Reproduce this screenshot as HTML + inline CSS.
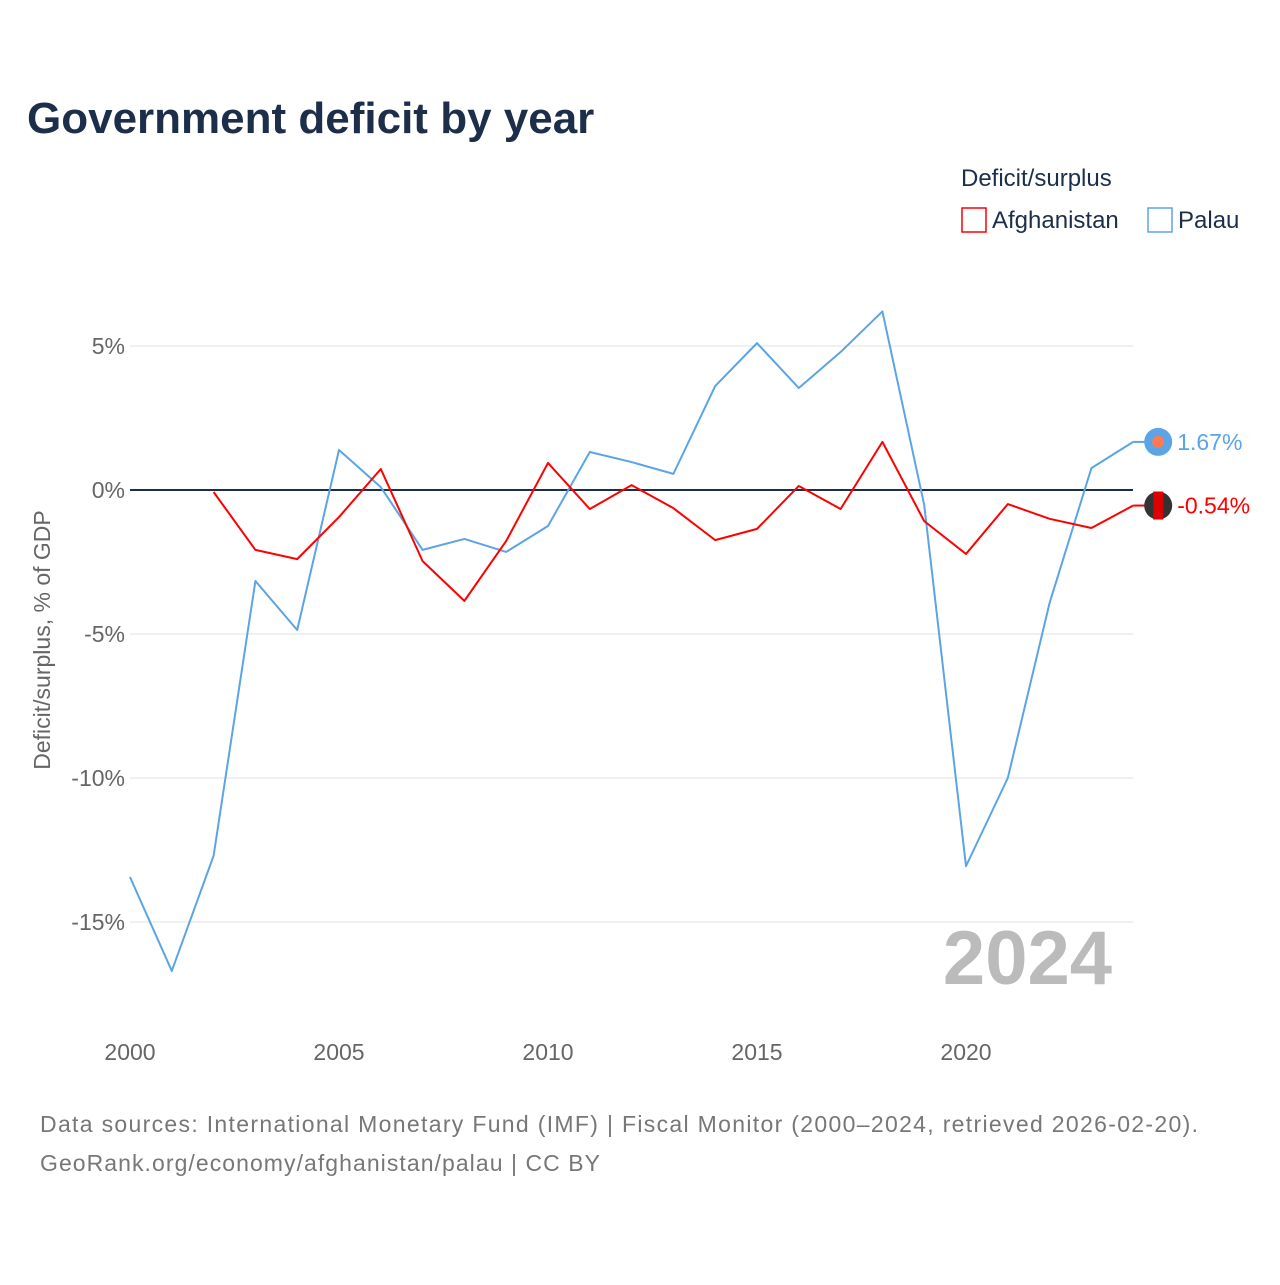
<!DOCTYPE html>
<html><head><meta charset="utf-8"><style>
body{margin:0;background:#fff;font-family:"Liberation Sans",sans-serif}
svg text{font-family:"Liberation Sans",sans-serif}
</style></head><body>
<svg width="1280" height="1280" viewBox="0 0 1280 1280">
<text x="27" y="133" font-size="44" font-weight="bold" fill="#1c2e4a">Government deficit by year</text>
<text x="961" y="186" font-size="24" fill="#1c2e4a">Deficit/surplus</text>
<g><rect x="962" y="208" width="24" height="24" fill="none" stroke="#ff0000" stroke-width="1.5"/><text x="992" y="228" font-size="24" fill="#1c2e4a">Afghanistan</text></g>
<g><rect x="1148" y="208" width="24" height="24" fill="none" stroke="#5ba4e5" stroke-width="1.5"/><text x="1178" y="228" font-size="24" fill="#1c2e4a">Palau</text></g>
<g id="grid"></g>
<g id="yticks"></g>
<g id="xticks"></g>
<text transform="translate(50,640) rotate(-90)" text-anchor="middle" font-size="23" fill="#666">Deficit/surplus, % of GDP</text>
<text x="1112" y="984" text-anchor="end" font-size="76" font-weight="bold" fill="#bbb">2024</text>
<g id="series"></g>
<text x="40" y="1132" font-size="23" fill="#777" textLength="1158">Data sources: International Monetary Fund (IMF) | Fiscal Monitor (2000–2024, retrieved 2026-02-20).</text>
<text x="40" y="1171" font-size="23" fill="#777" textLength="560">GeoRank.org/economy/afghanistan/palau | CC BY</text>
</svg>
<script>
const years=[2000,2001,2002,2003,2004,2005,2006,2007,2008,2009,2010,2011,2012,2013,2014,2015,2016,2017,2018,2019,2020,2021,2022,2023,2024];
const palau=[-13.44,-16.7,-12.7,-3.16,-4.86,1.39,0.1,-2.08,-1.7,-2.15,-1.25,1.32,0.97,0.56,3.61,5.1,3.54,4.79,6.2,-0.52,-13.06,-10.0,-3.92,0.76,1.67];
const afgYears=[2002,2003,2004,2005,2006,2007,2008,2009,2010,2011,2012,2013,2014,2015,2016,2017,2018,2019,2020,2021,2022,2023,2024];
const afghanistan=[-0.07,-2.08,-2.4,-0.94,0.73,-2.47,-3.85,-1.77,0.94,-0.66,0.17,-0.63,-1.74,-1.35,0.14,-0.66,1.67,-1.08,-2.22,-0.49,-1.0,-1.32,-0.54];
const yTicks=[5,0,-5,-10,-15];
const yTickLabels=["5%","0%","-5%","-10%","-15%"];
const xTicks=[2000,2005,2010,2015,2020];
const NS="http://www.w3.org/2000/svg";
const X=y=>130+(y-2000)*41.8;
const Y=v=>490-v*28.8;
function mk(t,a,p){const e=document.createElementNS(NS,t);for(const k in a)e.setAttribute(k,a[k]);p.appendChild(e);return e;}
const grid=document.getElementById('grid'),yt=document.getElementById('yticks'),xt=document.getElementById('xticks'),ser=document.getElementById('series');
yTicks.forEach((v,i)=>{
 const l=mk('line',{x1:130,x2:1133,y1:Y(v),y2:Y(v),stroke:v===0?'#1c2e4a':'#e6e6e6','stroke-width':v===0?2:1.2},grid);
 
 
 const t=mk('text',{x:125,y:Y(v)+8,'text-anchor':'end','font-size':23,fill:'#666'},yt);
 t.textContent=yTickLabels[i];
 
 
});
xTicks.forEach(y=>{
 const t=mk('text',{x:X(y),y:1060,'text-anchor':'middle','font-size':23,fill:'#666'},xt);
 t.textContent=y;
 
 
});
function line(xs,vs,col,name){
 const p=mk('polyline',{points:xs.map((y,i)=>X(y)+','+Y(vs[i])).join(' '),fill:'none',stroke:col,'stroke-width':2,'stroke-linejoin':'round'},ser);
 
 
 const lx=X(xs[xs.length-1]),ly=Y(vs[vs.length-1]);
 mk('line',{x1:lx,x2:lx+12,y1:ly,y2:ly,stroke:col,'stroke-width':2},ser);
 const c=mk('circle',{cx:lx+25,cy:ly,r:14,fill:col},ser);
 
 
 const t=mk('text',{x:lx+44,y:ly+8,'font-size':23,fill:col},ser);
 t.textContent=vs[vs.length-1].toFixed(2)+'%';
 
 
 return c;
}
const cp=line(years,palau,'#5ba4e5','palau-line');
mk('circle',{cx:cp.getAttribute('cx'),cy:cp.getAttribute('cy'),r:6,fill:'#ff7a50'},ser);
const ca=line(afgYears,afghanistan,'#ff0000','afghanistan-line');
ca.setAttribute('fill','#333');
mk('rect',{x:+ca.getAttribute('cx')-5,y:+ca.getAttribute('cy')-14,width:10,height:28,fill:'#d00'},ser);
</script>
</body></html>
